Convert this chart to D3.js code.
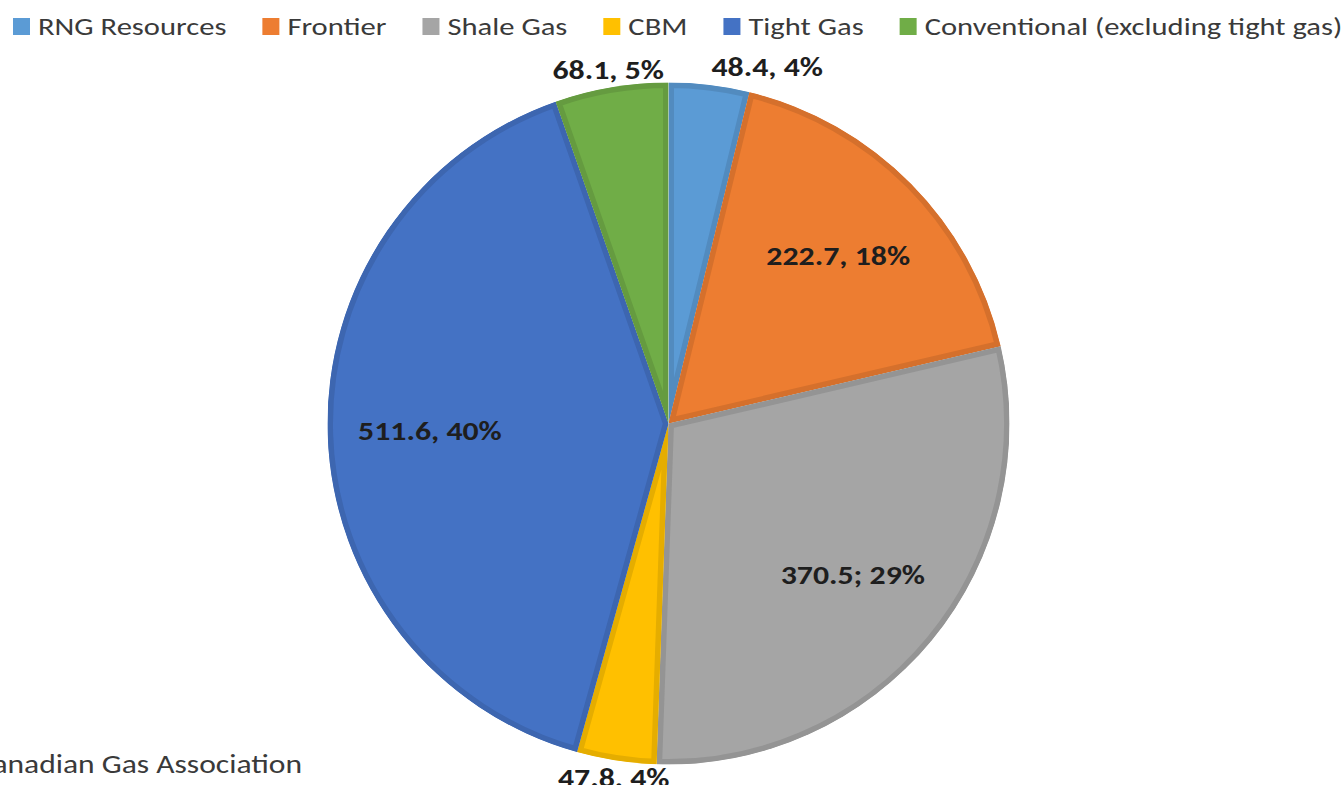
<!DOCTYPE html>
<html><head><meta charset="utf-8">
<script src="https://cdn.jsdelivr.net/npm/d3@7"></script>
<style>body{margin:0;background:#fff;overflow:hidden}svg{display:block}</style>
</head><body>
<svg id="chart" width="1343" height="785"></svg>
<script>
const categories = ["RNG Resources","Frontier","Shale Gas","CBM","Tight Gas","Conventional (excluding tight gas)"];
const values = [48.4, 222.7, 370.5, 47.8, 511.6, 68.1];
const labels = ["48.4, 4%","222.7, 18%","370.5; 29%","47.8, 4%","511.6, 40%","68.1, 5%"];
const colors = ["#5B9BD5","#ED7D31","#A5A5A5","#FFC000","#4472C4","#70AD47"];
const sourceText = "Canadian Gas Association";

const FONT = "Carlito,'Liberation Sans Narrow',Lato,sans-serif";
const SX = 1.2; // horizontal stretch of the reference's text
const svg = d3.select("#chart");
const cx = 668.5, cy = 423.5, r = 341;

const pie = d3.pie().sort(null).value(d => d)(values);
const arc = d3.arc().innerRadius(0).outerRadius(r);
const g = svg.append("g").attr("transform", `translate(${cx},${cy})`);
const defs = svg.append("defs");

pie.forEach((p, i) => {
  const id = "clip" + i;
  defs.append("clipPath").attr("id", id).append("path").attr("d", arc(p));
  g.append("path").attr("d", arc(p)).attr("fill", colors[i])
    .attr("stroke", d3.color(colors[i]).darker(0.3)).attr("stroke-width", 11)
    .attr("stroke-linejoin", "miter")
    .attr("clip-path", `url(#${id})`);
});

function stretchedText(parent, x, y, txt, size, weight, anchor, fill) {
  return parent.append("text").attr("transform", `translate(${x},${y}) scale(${SX},1)`)
    .attr("font-family", FONT).attr("font-size", size).attr("font-weight", weight)
    .attr("text-anchor", anchor).attr("dominant-baseline", "central").attr("fill", fill).text(txt);
}

// labels
const LSIZE = 26.5;
const inner = d3.arc().innerRadius(r * 0.7).outerRadius(r * 0.7);
const placed = [];
pie.forEach((p, i) => {
  const frac = (p.endAngle - p.startAngle) / (2 * Math.PI);
  if (frac > 0.1) {
    const [x, y] = inner.centroid(p);
    stretchedText(g, x, y, labels[i], LSIZE, "bold", "middle", "#1e1e1e");
  } else {
    const m = (p.startAngle + p.endAngle) / 2;
    const rr = r + 18;
    const x = Math.sin(m) * rr, y = -Math.cos(m) * rr;
    const t = stretchedText(g, x, y, labels[i], LSIZE, "bold", "middle", "#1e1e1e");
    placed.push({t, x, y, w: t.node().getComputedTextLength() * SX});
  }
});
// resolve overlaps between outside labels: anchor the right one at its point
for (let a = 0; a < placed.length; a++) for (let b = 0; b < placed.length; b++) {
  if (a === b) continue;
  const A = placed[a], B = placed[b];
  if (Math.abs(A.y - B.y) < 24 && A.x < B.x && (A.x + A.w / 2) > (B.x - B.w / 2)) {
    B.t.attr("text-anchor", "start");
  }
}

// legend
const lg = svg.append("g");
let lx = 13;
categories.forEach((c, i) => {
  lg.append("rect").attr("x", lx).attr("y", 18).attr("width", 17).attr("height", 17).attr("fill", colors[i]);
  const t = stretchedText(lg, lx + 25, 26.5, c, 25.5, "normal", "start", "#3a3a3a");
  lx += 25 + t.node().getComputedTextLength() * SX + 36;
});

stretchedText(svg, 0, 0, sourceText, 26.3, "normal", "end", "#3a3a3a")
  .attr("transform", `translate(302,764) scale(${SX},1)`);
</script>
</body></html>
